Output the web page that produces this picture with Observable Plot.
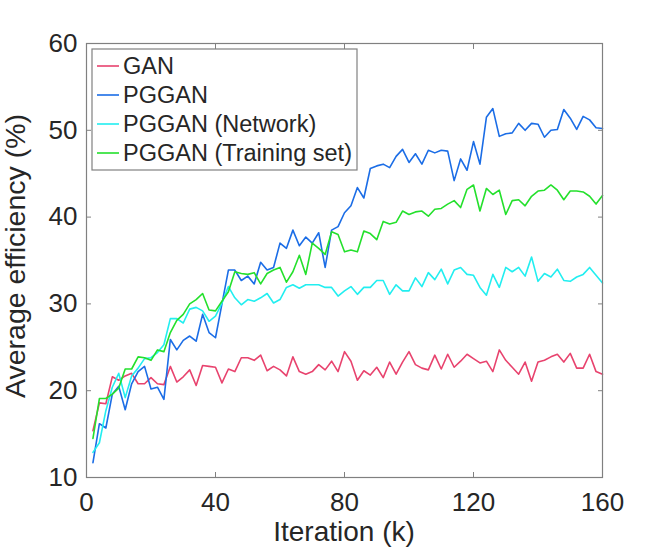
<!DOCTYPE html>
<html>
<head>
<meta charset="utf-8">
<script src="https://cdn.jsdelivr.net/npm/d3@7"></script>
<script src="https://cdn.jsdelivr.net/npm/@observablehq/plot@0.6"></script>
<style>
  html, body { margin: 0; padding: 0; background: #fff; }
  #chart { width: 664px; height: 554px; }
</style>
</head>
<body>
<div id="chart"></div>
<script>
const iterations = [2,4,6,8,10,12,14,16,18,20,22,24,26,28,30,32,34,36,38,40,
  42,44,46,48,50,52,54,56,58,60,62,64,66,68,70,72,74,76,78,80,
  82,84,86,88,90,92,94,96,98,100,102,104,106,108,110,112,114,116,118,120,
  122,124,126,128,130,132,134,136,138,140,142,144,146,148,150,152,154,156,158,160];

const gan = [15.4,18.6,18.5,21.6,21.2,21.7,22.0,20.8,20.8,21.5,20.8,20.7,22.8,21.0,21.6,22.4,20.6,22.9,22.8,22.7,
  20.9,22.5,22.2,23.8,23.8,23.5,24.1,22.3,22.8,22.4,21.7,23.9,22.2,21.9,22.2,23.0,22.4,23.4,22.2,24.5,
  23.4,21.2,22.3,21.8,22.7,21.5,23.3,21.9,23.3,24.5,23.0,22.6,22.4,24.1,22.5,24.2,22.7,23.4,24.2,23.7,
  23.2,23.4,22.2,24.7,23.5,22.7,21.9,23.3,21.1,23.3,23.5,23.9,24.2,23.3,24.3,22.6,22.6,24.2,22.2,21.9];

const pggan = [11.7,16.2,15.7,19.6,20.5,17.8,20.8,22.2,22.8,20.2,20.4,19.0,25.9,24.7,25.8,26.3,25.7,28.8,26.7,26.1,
  30.0,33.9,33.9,32.7,33.2,32.3,34.8,33.9,34.2,37.0,36.4,38.5,36.7,37.7,37.0,38.2,34.2,38.5,38.9,40.5,
  41.3,43.4,42.2,45.6,45.9,46.1,45.7,47.0,47.8,46.3,47.3,46.1,47.7,47.4,47.7,47.6,44.2,46.7,45.4,48.7,
  46.1,51.5,52.5,49.3,49.6,49.7,50.8,50.0,50.8,50.7,49.2,50.0,50.1,52.4,51.4,50.1,51.6,51.2,50.3,50.2];

const pgganNetwork = [12.9,14.0,17.7,20.4,22.0,19.2,21.7,22.6,23.7,23.8,24.4,25.3,28.3,28.3,27.8,29.4,29.6,29.2,28.0,28.6,
  30.1,32.0,30.7,29.9,30.5,30.3,30.7,31.2,30.1,30.5,31.9,32.2,31.8,32.2,32.2,32.2,31.9,31.9,30.9,31.5,
  32.0,31.1,31.9,31.9,32.7,32.7,31.1,32.2,31.5,31.5,33.0,32.0,33.6,32.8,34.0,32.3,33.9,34.2,33.4,33.3,
  31.9,31.0,33.4,31.9,34.2,33.7,34.2,33.2,35.4,32.6,33.5,33.1,34.0,32.7,32.6,33.1,33.4,34.2,33.3,32.4];

const pgganTraining = [14.5,19.1,19.1,19.6,20.3,22.5,22.5,23.9,23.8,23.5,24.7,24.5,26.7,28.1,28.8,30.0,30.5,31.2,29.3,29.2,
  30.3,31.4,33.7,33.5,33.4,33.6,32.3,33.5,33.9,34.2,32.5,33.7,35.6,33.4,37.0,36.4,35.7,38.3,38.0,36.0,
  36.2,36.0,38.4,38.1,37.4,39.5,39.2,39.4,40.7,40.3,40.6,40.7,40.1,40.9,41.0,41.5,41.9,41.1,43.2,43.7,
  40.7,43.3,42.6,43.1,40.3,41.9,42.0,41.3,42.4,43.0,43.1,43.7,43.1,42.0,43.0,43.0,42.9,42.4,41.5,42.5];

const seriesNames = ["GAN", "PGGAN", "PGGAN (Network)", "PGGAN (Training set)"];
const seriesValues = [gan, pggan, pgganNetwork, pgganTraining];
const seriesColors = ["#e8436e", "#1b6de6", "#22eef0", "#24e02c"];
const xTicks = [0, 40, 80, 120, 160];
const yTicks = [10, 20, 30, 40, 50, 60];
const xLabel = "Iteration (k)";
const yLabel = "Average efficiency (%)";

const data = seriesNames.flatMap((name, i) =>
  iterations.map((k, j) => ({series: name, k, v: seriesValues[i][j]})));

const FONT = "'Liberation Sans', Arial, Helvetica, sans-serif";
const frameColor = "#808080";
const textColor = "#262626";

const chart = Plot.plot({
  width: 664,
  height: 554,
  marginLeft: 86,
  marginRight: 62,
  marginTop: 43,
  marginBottom: 77,
  style: {fontFamily: FONT, background: "#fff", overflow: "visible"},
  x: {domain: [0, 160]},
  y: {domain: [10, 60]},
  color: {domain: seriesNames, range: seriesColors},
  marks: [
    Plot.line(data, {x: "k", y: "v", z: "series", stroke: "series", strokeWidth: 1.6, strokeLinejoin: "round"}),
    Plot.frame({stroke: frameColor, strokeWidth: 1.2}),
    Plot.axisX(xTicks, {anchor: "bottom", tickSize: -5, tickPadding: 20, label: null, fontSize: 26, stroke: frameColor, fill: textColor}),
    Plot.axisX(xTicks, {anchor: "top", tickSize: -5, tickFormat: () => "", label: null, stroke: frameColor}),
    Plot.axisY(yTicks, {anchor: "left", tickSize: -5, tickPadding: 14, label: null, fontSize: 26, stroke: frameColor, fill: textColor}),
    Plot.axisY(yTicks, {anchor: "right", tickSize: -5, tickFormat: () => "", label: null, stroke: frameColor})
  ]
});

document.getElementById("chart").appendChild(chart);

const svg = d3.select(chart);

// axis titles
svg.append("text")
  .attr("x", 344).attr("y", 541)
  .attr("text-anchor", "middle")
  .attr("font-family", FONT).attr("font-size", 28).attr("fill", textColor)
  .text(xLabel);

svg.append("text")
  .attr("transform", "translate(25,256) rotate(-90)")
  .attr("text-anchor", "middle")
  .attr("font-family", FONT).attr("font-size", 28.5).attr("fill", textColor)
  .text(yLabel);

// legend
const lg = svg.append("g").attr("text-anchor", "start");
lg.append("rect")
  .attr("x", 92).attr("y", 49).attr("width", 265).attr("height", 121)
  .attr("fill", "#fff").attr("stroke", frameColor).attr("stroke-width", 1.2);
seriesNames.forEach((name, i) => {
  const cy = 66 + i * 29;
  lg.append("line")
    .attr("x1", 97).attr("x2", 119).attr("y1", cy).attr("y2", cy)
    .attr("stroke", seriesColors[i]).attr("stroke-width", 1.6);
  lg.append("text")
    .attr("x", 123).attr("y", cy).attr("dy", "0.36em")
    .attr("text-anchor", "start")
    .attr("font-family", FONT).attr("font-size", 23.5).attr("fill", textColor)
    .text(name);
});
</script>
</body>
</html>
